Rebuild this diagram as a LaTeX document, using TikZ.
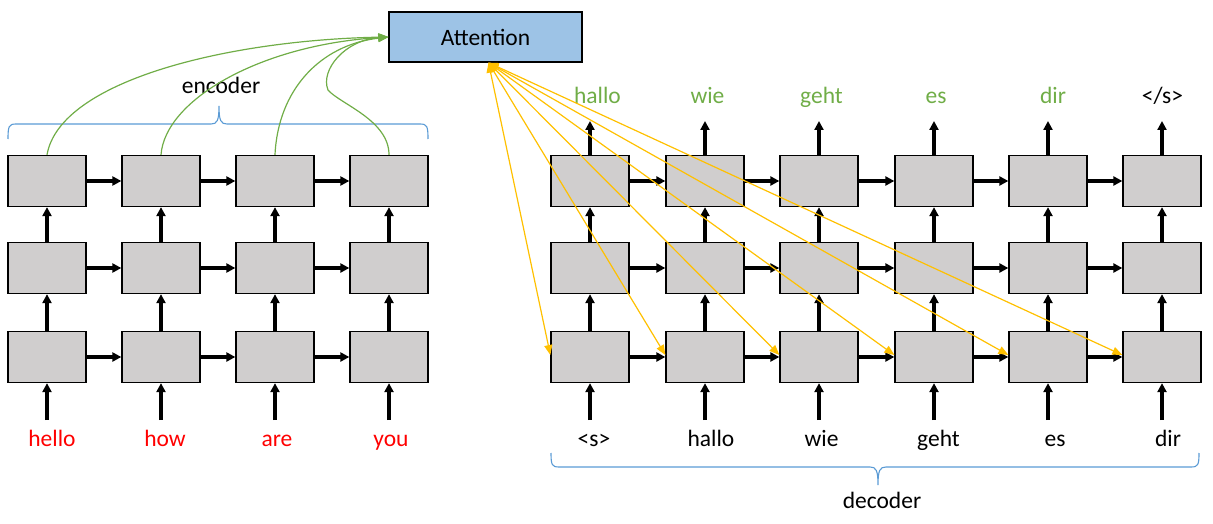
\documentclass[tikz,border=0pt]{standalone}
\usepackage{fontspec}
\setmainfont{Carlito}
\usetikzlibrary{arrows.meta,calc}
\definecolor{boxgray}{HTML}{D0CECE}
\definecolor{attblue}{HTML}{9DC3E6}
\definecolor{accgreen}{HTML}{70AD47}
\definecolor{accyellow}{HTML}{FFC000}
\definecolor{bracblue}{HTML}{5B9BD5}
\definecolor{wordred}{HTML}{FF0000}
\begin{document}
\begin{tikzpicture}[x=1pt,y=-1pt,
  cell/.style={draw=black,line width=1.3pt,fill=boxgray,minimum width=78pt,minimum height=51pt,inner sep=0pt},
  flow/.style={line width=3.3pt,-{Triangle[length=9pt,width=9pt]}},
  greenline/.style={accgreen,line width=1.2pt,-{Triangle[length=10pt,width=8pt]}},
  yelline/.style={accyellow,line width=1.2pt,{Triangle[length=10pt,width=8pt]}-{Triangle[length=10pt,width=8pt]}},
  bracestyle/.style={bracblue,line width=1.1pt},
  lbl/.style={font=\fontsize{23.5}{28}\selectfont,inner sep=0pt,anchor=base}]
\useasboundingbox (0,0) rectangle (1213,524);
% attention
\node[draw=black,line width=1.3pt,fill=attblue,minimum width=193pt,minimum height=50pt,inner sep=0pt,font=\fontsize{23.5}{28}\selectfont] (att) at (485.5,37) {Attention};
\coordinate (attb) at ($(att.south)+(3,0)$);
% encoder cells
\foreach \c/\x in {1/47,2/161,3/275,4/389}{
  \node[cell] (e-t-\c) at (\x,181) {};
  \node[cell] (e-m-\c) at (\x,268) {};
  \node[cell] (e-b-\c) at (\x,357) {};
  \coordinate (ein-\c) at (\x,420);
  \draw[flow] (ein-\c) -- (e-b-\c.south);
  \draw[flow] (e-b-\c.north) -- (e-m-\c.south);
  \draw[flow] (e-m-\c.north) -- (e-t-\c.south);
}
\foreach \a/\b in {1/2,2/3,3/4}{
  \draw[flow] (e-t-\a.east) -- (e-t-\b.west);
  \draw[flow] (e-m-\a.east) -- (e-m-\b.west);
  \draw[flow] (e-b-\a.east) -- (e-b-\b.west);
}
% decoder cells
\foreach \c/\x in {1/590,2/705,3/819,4/934,5/1048,6/1162}{
  \node[cell] (d-t-\c) at (\x,181) {};
  \node[cell] (d-m-\c) at (\x,268) {};
  \node[cell] (d-b-\c) at (\x,357) {};
  \coordinate (din-\c) at (\x,420);
  \coordinate (dout-\c) at (\x,121);
  \draw[flow] (din-\c) -- (d-b-\c.south);
  \draw[flow] (d-b-\c.north) -- (d-m-\c.south);
  \draw[flow] (d-m-\c.north) -- (d-t-\c.south);
  \draw[flow] (d-t-\c.north) -- (dout-\c);
}
\foreach \a/\b in {1/2,2/3,3/4,4/5,5/6}{
  \draw[flow] (d-t-\a.east) -- (d-t-\b.west);
  \draw[flow] (d-m-\a.east) -- (d-m-\b.west);
  \draw[flow] (d-b-\a.east) -- (d-b-\b.west);
}
% encoder labels
\node[lbl,text=wordred] (w-e-1) at (52,446) {hello};
\node[lbl,text=wordred] (w-e-2) at (165,446) {how};
\node[lbl,text=wordred] (w-e-3) at (277,446) {are};
\node[lbl,text=wordred] (w-e-4) at (391,446) {you};
% decoder inputs
\node[lbl] (w-d-1) at (594,446) {<s>};
\node[lbl] (w-d-2) at (711,446) {hallo};
\node[lbl] (w-d-3) at (821.5,446) {wie};
\node[lbl] (w-d-4) at (938.5,446) {geht};
\node[lbl] (w-d-5) at (1055,446) {es};
\node[lbl] (w-d-6) at (1168,446) {dir};
% decoder outputs
\node[lbl,text=accgreen] (o-d-1) at (597.5,104) {hallo};
\node[lbl,text=accgreen] (o-d-2) at (707.5,104) {wie};
\node[lbl,text=accgreen] (o-d-3) at (821.5,104) {geht};
\node[lbl,text=accgreen] (o-d-4) at (936,104) {es};
\node[lbl,text=accgreen] (o-d-5) at (1053,104) {dir};
\node[lbl] (o-d-6) at (1162.5,104) {</s>};
% braces
\draw[bracestyle] (8,139) .. controls (8,126) and (9,124) .. (16,124) -- (211,124)
  .. controls (217,124) and (219,121) .. (219,106)
  .. controls (219,121) and (221,124) .. (227,124) -- (420,124)
  .. controls (427,124) and (428,126) .. (428,139);
\node[lbl] (enc) at (221,94) {encoder};
\draw[bracestyle] (551,453) .. controls (551,465) and (552,467) .. (559,467) -- (870,467)
  .. controls (876,467) and (878,470) .. (878,485)
  .. controls (878,470) and (880,467) .. (886,467) -- (1191,467)
  .. controls (1198,467) and (1199,465) .. (1199,453);
\node[lbl] (dec) at (882,508) {decoder};
% green curves
\draw[greenline] (e-t-1.north) .. controls (60,80) and (230,40) .. (att.west);
\draw[greenline] (e-t-2.north) .. controls (165,100) and (260,45) .. (att.west);
\draw[greenline] (e-t-3.north) .. controls (278,90) and (320,45) .. (att.west);
\draw[greenline] (e-t-4.north) .. controls (389,120) and (340,104) .. (328,90)
  .. controls (320,70) and (345,40) .. (att.west);
% yellow attention lines
\foreach \c in {1,...,6}{
  \draw[yelline] (attb) -- ($(d-b-\c.west)+(0,-2)$);
}
\end{tikzpicture}
\end{document}
